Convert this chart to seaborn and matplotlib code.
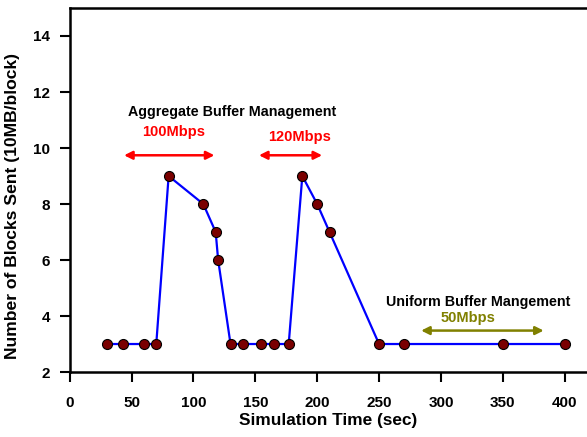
import matplotlib
matplotlib.use("Agg")
import matplotlib.pyplot as plt
import seaborn as sns
import pandas as pd

time_sec = [30, 43, 60, 70, 80, 108, 118, 120, 130, 140, 155, 165, 177, 188, 200, 210, 250, 270, 350, 400]
blocks = [3, 3, 3, 3, 9, 8, 7, 6, 3, 3, 3, 3, 3, 9, 8, 7, 3, 3, 3, 3]
x_ticks = [0, 50, 100, 150, 200, 250, 300, 350, 400]
y_ticks = [2, 4, 6, 8, 10, 12, 14]

sns.set_style("ticks")
plt.rcParams['font.family'] = ['Liberation Sans', 'DejaVu Sans']
plt.rcParams['font.weight'] = 'bold'
for k in ['text.color', 'axes.labelcolor', 'xtick.color', 'ytick.color', 'axes.edgecolor']:
    plt.rcParams[k] = 'black'

df = pd.DataFrame({"t": time_sec, "b": blocks})
fig = plt.figure(figsize=(5.87, 4.37), dpi=100)
ax = fig.add_axes([0.1186, 0.1487, 0.8814, 0.833])
sns.lineplot(data=df, x="t", y="b", ax=ax, color="blue", linewidth=1.6,
             marker="o", markersize=7.2, markerfacecolor="#7a0000",
             markeredgecolor="black", markeredgewidth=0.8)

ax.set_xlim(0, 418)
ax.set_ylim(2, 15)
ax.set_xticks(x_ticks)
ax.set_yticks(y_ticks)
ax.tick_params(axis="both", direction="out", length=7.5, width=1.5, labelsize=11)
ax.tick_params(axis="x", pad=9.5)
ax.tick_params(axis="y", pad=6.5)
for lab in ax.get_xticklabels() + ax.get_yticklabels():
    lab.set_fontweight("bold")
for s in ["left", "bottom", "top"]:
    ax.spines[s].set_linewidth(1.8)
    ax.spines[s].set_color("black")
ax.spines["right"].set_visible(False)
ax.set_xlabel("Simulation Time (sec)", fontsize=12.4, fontweight="bold", labelpad=2.5)
ax.set_ylabel("Number of Blocks Sent (10MB/block)", fontsize=12.6, fontweight="bold")
ax.yaxis.set_label_coords(-0.096, 0.456)

ax.text(131, 11.30, "Aggregate Buffer Management", ha="center", va="center", fontsize=10.3, fontweight="bold")
ax.text(84, 10.56, "100Mbps", ha="center", va="center", fontsize=10.5, fontweight="bold", color="red")
ax.text(186, 10.40, "120Mbps", ha="center", va="center", fontsize=10.5, fontweight="bold", color="red")
ax.text(330, 4.51, "Uniform Buffer Mangement", ha="center", va="center", fontsize=10.3, fontweight="bold")
ax.text(322, 3.92, "50Mbps", ha="center", va="center", fontsize=10.5, fontweight="bold", color="#808000")

for x0, x1, y, c in [(44, 117, 9.74, "red"), (153, 204, 9.74, "red"), (284, 383, 3.48, "#808000")]:
    ax.annotate("", xy=(x1, y), xytext=(x0, y),
                arrowprops=dict(arrowstyle="<|-|>", color=c, lw=1.8, mutation_scale=12,
                                shrinkA=0, shrinkB=0))

fig.savefig("out.png", dpi=100)
